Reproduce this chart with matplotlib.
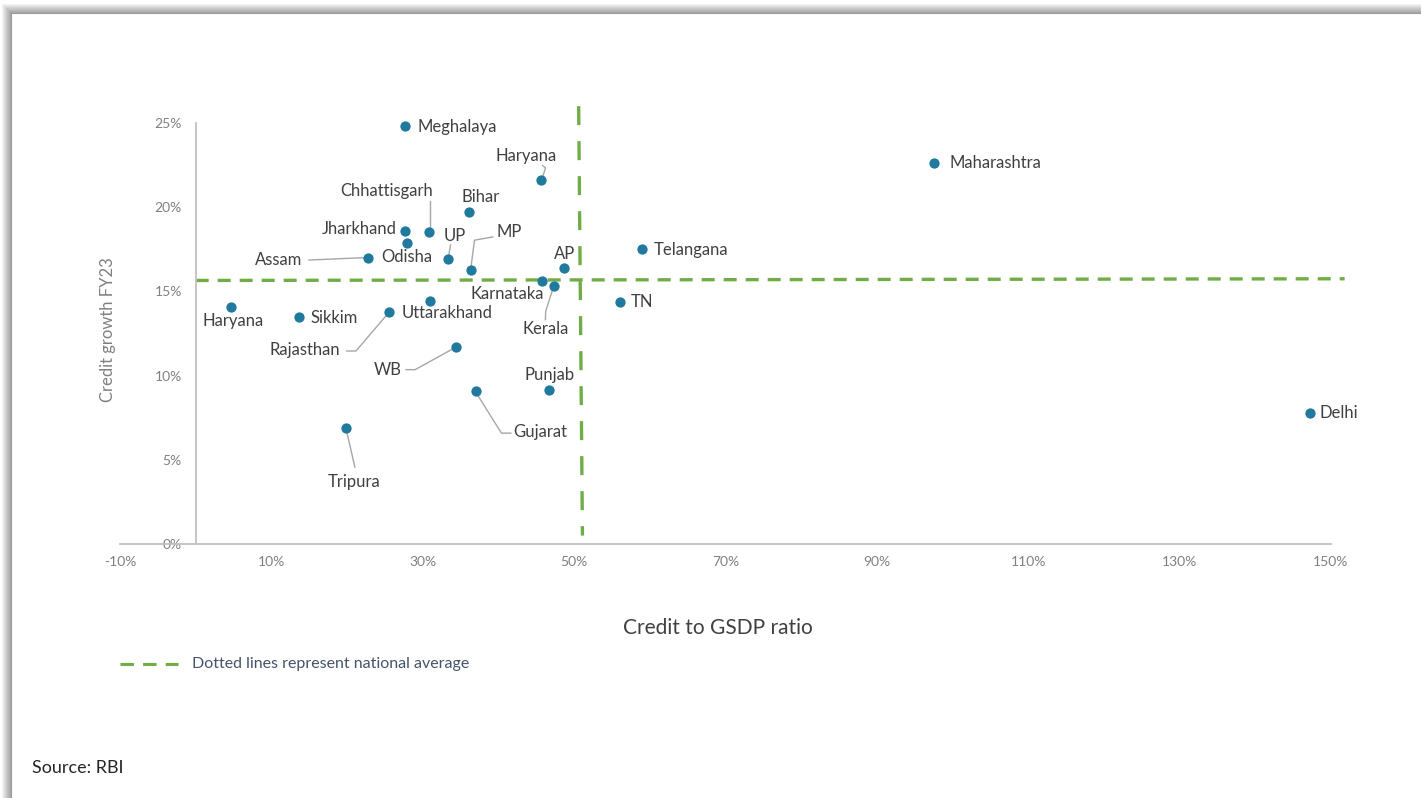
import matplotlib
matplotlib.use("Agg")
import matplotlib.pyplot as plt
import matplotlib.transforms as mtransforms
from matplotlib.lines import Line2D
from matplotlib.patches import Rectangle

# ---- data -------------------------------------------------------------
states = ["Meghalaya", "Maharashtra", "Haryana", "Bihar", "Chhattisgarh",
          "Jharkhand", "Odisha", "UP", "MP", "AP", "Karnataka", "Kerala",
          "Telangana", "TN", "Assam", "Haryana", "Sikkim", "Rajasthan",
          "Uttarakhand", "WB", "Punjab", "Gujarat", "Tripura", "Delhi"]
credit_to_gsdp = [27.7, 97.5, 45.6, 36.1, 30.8, 27.7, 27.9, 33.4, 36.4, 48.6,
                  45.7, 47.3, 59.0, 56.0, 22.8, 4.7, 13.7, 25.5, 31.0, 34.4,
                  46.7, 37.0, 19.9, 147.2]
credit_growth = [24.8, 22.6, 21.6, 19.7, 18.5, 18.6, 17.9, 16.9, 16.3, 16.4,
                 15.6, 15.3, 17.5, 14.35, 17.0, 14.1, 13.5, 13.8, 14.45, 11.7,
                 9.15, 9.1, 6.9, 7.8]

# national average reference lines
avg_ratio_x = [50.6, 51.1]
avg_ratio_y = [26.0, 0.5]
avg_growth_x = [0.0, 151.8]
avg_growth_y = [15.65, 15.75]

x_ticks = [-10, 10, 30, 50, 70, 90, 110, 130, 150]
y_ticks = [0, 5, 10, 15, 20, 25]

# ---- label layout (pixel offsets from each point; y up) ----------------
label_layout = [
    ((12, -1), "left", None),
    ((16, 0), "left", None),
    ((-15, 24), "center", [(2.3, 4.7), (4.7, 12.4), (1.7, 14.7)]),
    ((12, 15), "center", None),
    ((-42, 41), "center", [(0.7, 4), (0.7, 31)]),
    ((-9, 2), "right", None),
    ((0, -14), "center", None),
    ((6, 23.6), "center", [(0.3, 4.3), (2, 14.3)]),
    ((38.3, 37.6), "center", [(0, 4), (3.3, 29.3), (21.6, 32.6)]),
    ((1.3, 14.3), "center", None),
    ((-34.6, -12.7), "center", None),
    ((-8.3, -42.3), "center", [(-1.3, -4), (-8, -25), (-8.3, -33.3)]),
    ((12, -1), "left", None),
    ((11, 0), "left", None),
    ((-66, -2), "right", [(-5, 0), (-59.3, -2.3)]),
    ((2, -14.7), "center", None),
    ((11, -1), "left", None),
    ((-48.7, -38.7), "right", [(-1.4, -2.7), (-32.7, -39.4), (-42, -39.4)]),
    ((-28.3, -12), "left", None),
    ((-54, -23), "right", [(-3.4, -2), (-41, -22.7), (-50, -22.7)]),
    ((0.3, 14.7), "center", None),
    ((38, -41.4), "left", [(1.7, -4), (25.7, -42.4), (35, -42.4)]),
    ((8.3, -53.7), "center", [(0.6, -4.7), (8.6, -39.3)]),
    ((10, 0), "left", None),
]

# ---- style -------------------------------------------------------------
W, H, DPI = 1421, 798, 100
FONT = "Lato"
DOT = "#1F7A9E"
GREEN = "#70AD47"
LABEL = "#404040"
TICK = "#808080"
AXIS = "#C0C0C0"
LEADER = "#A6A6A6"

plt.rcParams["font.family"] = [FONT, "DejaVu Sans"]

fig = plt.figure(figsize=(W / DPI, H / DPI), dpi=DPI)
fig.patch.set_facecolor("white")

# card with a soft shadow along its top and left edges
card_x, card_y = 11, 13
for k in range(9, 0, -1):
    fig.patches.append(Rectangle(((card_x - k) / W, -0.1), 1.2,
                                 1.1 - (card_y - k) / H,
                                 transform=fig.transFigure, facecolor="black",
                                 edgecolor="none", alpha=0.045, zorder=-20))
fig.patches.append(Rectangle((card_x / W, -0.1), 1.2, 1.1 - card_y / H,
                             transform=fig.transFigure, facecolor="white",
                             edgecolor="#9A9A9A", linewidth=0.8, zorder=-10))

ax = fig.add_axes([120 / W, (H - 544) / H, (1331 - 120) / W, (544 - 123) / H])
ax.set_facecolor("none")
ax.set_xlim(-10, 150)
ax.set_ylim(0, 25)

for side in ("top", "right"):
    ax.spines[side].set_visible(False)
ax.spines["left"].set_position(("data", 0))
ax.spines["left"].set_bounds(0, 25)
for side in ("left", "bottom"):
    ax.spines[side].set_color(AXIS)
    ax.spines[side].set_linewidth(1.3)

ax.set_xticks(x_ticks)
ax.set_xticklabels([f"{v}%" for v in x_ticks])
ax.set_yticks(y_ticks)
ax.set_yticklabels([f"{v}%" for v in y_ticks])
ax.tick_params(axis="both", length=0, labelsize=10, labelcolor=TICK)
ax.tick_params(axis="y", pad=10)
ax.tick_params(axis="x", pad=8.5)

# national average lines
ax.plot(avg_ratio_x, avg_ratio_y, color=GREEN, lw=2.4,
        dashes=(5.7, 4.8), clip_on=False, zorder=2)
ax.plot(avg_growth_x, avg_growth_y, color=GREEN, lw=2.4,
        dashes=(3.9, 2.7), clip_on=False, zorder=2)

# states
ax.scatter(credit_to_gsdp, credit_growth, s=55, color=DOT, zorder=4,
           linewidths=0, clip_on=False)

for name, x, y, (offset, ha, leader) in zip(states, credit_to_gsdp,
                                             credit_growth, label_layout):
    ax.annotate(name, (x, y), xytext=offset, textcoords="offset pixels",
                ha=ha, va="center", fontsize=12, color=LABEL, zorder=5)
    if leader:
        bx, by = ax.transData.transform((x, y))
        tr = mtransforms.Affine2D().translate(bx, by)
        ax.add_line(Line2D([p[0] for p in leader], [p[1] for p in leader],
                           transform=tr, color=LEADER, lw=1.0,
                           clip_on=False, zorder=3))

# titles, legend, source
fig.text(108 / W, 1 - 330 / H, "Credit growth FY23", rotation=90,
         ha="center", va="center", fontsize=12, color=TICK)
fig.text(718 / W, 1 - 628 / H, "Credit to GSDP ratio", ha="center",
         va="center", fontsize=15, color=LABEL)

fig.lines.append(Line2D([120 / W, 178 / W], [1 - 664 / H] * 2,
                        transform=fig.transFigure, color=GREEN, lw=2.2,
                        dashes=(4.4, 3.0)))
fig.text(192 / W, 1 - 664 / H, "Dotted lines represent national average",
         ha="left", va="center", fontsize=11.5, color="#44546A")
fig.text(32 / W, 1 - 768 / H, "Source: RBI", ha="left", va="center",
         fontsize=13, color="#262626")

fig.savefig("out.png", dpi=DPI, facecolor="white")
